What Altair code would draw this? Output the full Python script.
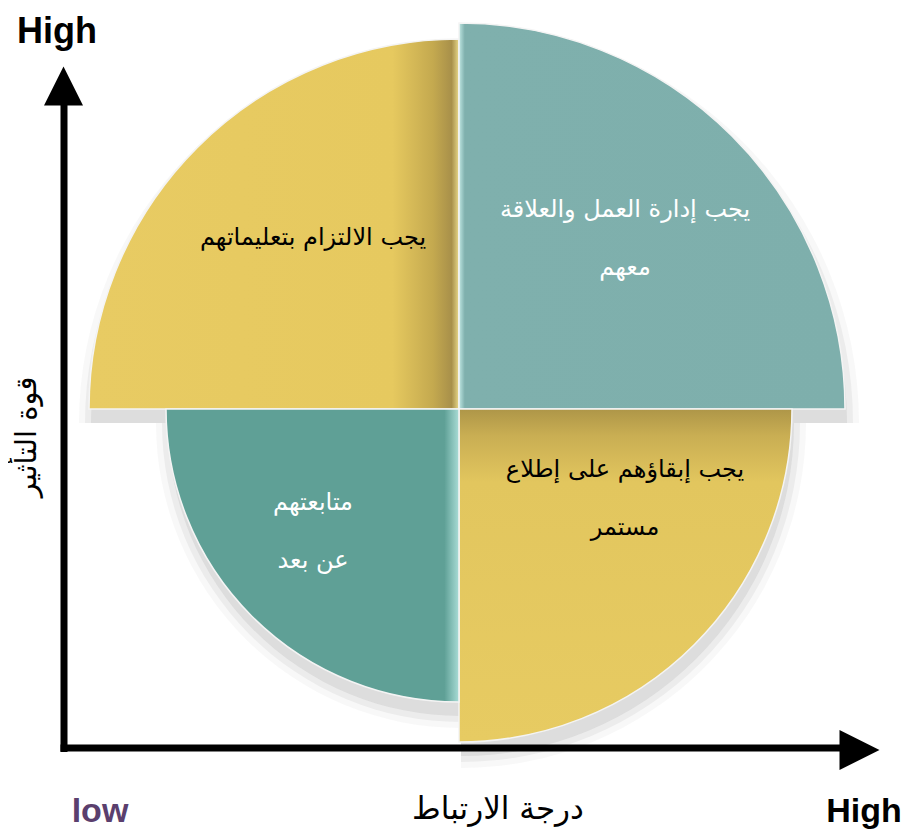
import altair as alt
import pandas as pd

# ---- data ----
quadrant_ids = ["TR", "BR", "BL", "TL"]
quadrant_labels = [
    "يجب إدارة العمل والعلاقة\nمعهم",
    "يجب إبقاؤهم على إطلاع\nمستمر",
    "متابعتهم\nعن بعد",
    "يجب الالتزام بتعليماتهم",
]
theta_start = [0, 90, 180, 270]
theta_end = [90, 180, 270, 360]
radius = [386, 333, 293, 370]

x_axis_title = "درجة الارتباط"
y_axis_title = "قوة التأثير"
high_label = "High"
low_label = "low"

df = pd.DataFrame({
    "q": quadrant_ids,
    "label": quadrant_labels,
    "start": theta_start,
    "end": theta_end,
    "r": radius,
})
one = pd.DataFrame({"k": [0]})

W, H = 894, 823
CX, CY = 451, 401
AR = "DejaVu Sans"
LAT = "Liberation Sans"

theta_scale = alt.Scale(domain=[0, 360], range=[0, 6.283185307])
r_scale = alt.Scale(type="linear", domain=[0, 400], range=[0, 400], zero=True)


def wedge(qid, fill, offx=0, offy=0, extra=0, opacity=1.0, stroke=True):
    base = alt.Chart(df).transform_filter(alt.datum.q == qid)
    if extra:
        base = base.transform_calculate(r=alt.datum.r + extra)
    kw = dict(color=fill, opacity=opacity)
    if stroke:
        kw.update(stroke="#f4f4f4", strokeWidth=1.5)
    return base.mark_arc(**kw).encode(
        theta=alt.Theta("start:Q", scale=theta_scale, stack=None),
        theta2="end:Q",
        radius=alt.Radius("r:Q", scale=r_scale),
        x=alt.value(CX + offx),
        y=alt.value(CY + offy),
    )


def grad_h(stops):
    return alt.LinearGradient(gradient="linear", x1=0, y1=0, x2=1, y2=0,
                              stops=[alt.GradientStop(offset=o, color=c) for o, c in stops])


def grad_v(stops):
    return alt.LinearGradient(gradient="linear", x1=0, y1=0, x2=0, y2=1,
                              stops=[alt.GradientStop(offset=o, color=c) for o, c in stops])


layers = []
# soft shadow
for q in quadrant_ids:
    for ex, op in [(12, 0.04), (6, 0.07), (0, 0.10)]:
        layers.append(wedge(q, "#555555", offx=2, offy=14, extra=ex, opacity=op, stroke=False))

layers.append(wedge("TL", grad_h([(0, "#E8CB63"), (0.82, "#E6C95F"), (0.93, "#C4A94F"),
                                   (0.98, "#A8904A"), (1, "#E9D98A")])))
layers.append(wedge("TR", grad_h([(0, "#BFE6E2"), (0.015, "#7FB0AD"), (1, "#7EAFAC")])))
layers.append(wedge("BR", grad_v([(0, "#AE9648"), (0.08, "#C9AE53"), (0.22, "#E2C65E"),
                                   (1, "#E7CB62")])))
layers.append(wedge("BL", grad_h([(0, "#5FA096"), (0.95, "#5FA096"), (1, "#A9DCD6")])))


def txt(text, x, y, size, color="black", font=AR, weight="normal", angle=0, baseline="middle"):
    kw = dict(text=text, fontSize=size, color=color, font=font, fontWeight=weight,
              align="center", baseline=baseline)
    if angle:
        kw["angle"] = angle
    return alt.Chart(one).mark_text(**kw).encode(x=alt.value(x), y=alt.value(y))


def qtext(qid, x, y, color):
    return alt.Chart(df).transform_filter(alt.datum.q == qid).transform_calculate(
        lines="split(datum.label, '\\n')"
    ).mark_text(fontSize=24, font=AR, color=color, align="center", baseline="middle",
                lineHeight=58).encode(text="lines:N", x=alt.value(x), y=alt.value(y))


layers.append(qtext("TL", 305, 230, "black"))
layers.append(qtext("TR", 617, 202, "white"))
layers.append(qtext("BR", 617, 462, "black"))
layers.append(qtext("BL", 305, 495, "white"))

# axes
layers.append(alt.Chart(one).mark_rule(color="black", strokeWidth=7).encode(
    x=alt.value(56), y=alt.value(92), y2=alt.value(744)))
layers.append(alt.Chart(one).mark_rule(color="black", strokeWidth=7).encode(
    x=alt.value(52.5), x2=alt.value(836), y=alt.value(740)))
layers.append(alt.Chart(one).mark_point(shape="M-1,1L1,1L0,-1Z", filled=True, color="black",
                                        opacity=1, size=1521).encode(
    x=alt.value(55.5), y=alt.value(78)))
layers.append(alt.Chart(one).mark_point(shape="M-1,-1L1,0L-1,1Z", filled=True, color="black",
                                        opacity=1, size=1600).encode(
    x=alt.value(851.5), y=alt.value(742)))

layers.append(txt(high_label, 49, 35, 36, font=LAT, weight="bold", baseline="alphabetic"))
layers.append(txt(high_label, 856, 804, 34, font=LAT, weight="middle" if False else "bold"))
layers.append(txt(low_label, 92, 804, 34, color="#5B3F6E", font=LAT, weight="bold"))
layers.append(txt(x_axis_title, 490, 802, 31))
layers.append(txt(y_axis_title, 19, 429, 29, angle=270))

chart = alt.layer(*layers).properties(
    width=W, height=H, padding=0, autosize=alt.AutoSizeParams(type="none")
).configure_view(stroke=None)

chart.save("out.html", embed_options={"renderer": "svg", "actions": False})
